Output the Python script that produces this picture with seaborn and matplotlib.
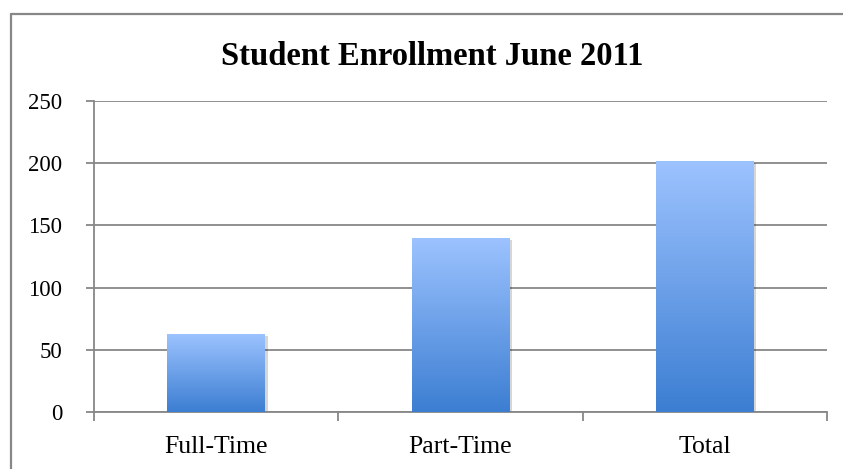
import numpy as np
import pandas as pd
import matplotlib
matplotlib.use("Agg")
import matplotlib.pyplot as plt
import matplotlib.transforms as mtransforms
from matplotlib.colors import LinearSegmentedColormap
from matplotlib.lines import Line2D
from matplotlib.patches import Rectangle
import seaborn as sns

# Data
categories = ["Full-Time", "Part-Time", "Total"]
students = [63, 140, 202]
y_ticks = [0, 50, 100, 150, 200, 250]

TOP_COLOR = "#9DC3FF"
BOTTOM_COLOR = "#3C7ED2"
GRID = "#878787"

sns.set_theme(style="white")
plt.rcParams["font.family"] = ["Liberation Serif", "DejaVu Serif"]
plt.rcParams["text.color"] = "black"

df = pd.DataFrame({"category": categories, "students": students})

fig = plt.figure(figsize=(8.43, 4.69), dpi=100)
ax = fig.add_axes([94 / 843, 57 / 469, (827 - 94) / 843, (412 - 101) / 469])

sns.barplot(data=df, x="category", y="students", ax=ax, width=0.4,
            color=TOP_COLOR, saturation=1, linewidth=0, zorder=3)

# gradient fill + soft shadow for every bar
cmap = LinearSegmentedColormap.from_list("bar", [BOTTOM_COLOR, TOP_COLOR])
grad = np.linspace(0, 1, 256).reshape(-1, 1)
for bar in list(ax.patches):
    x0, w, h = bar.get_x(), bar.get_width(), bar.get_height()
    shadow_tr = mtransforms.offset_copy(ax.transData, fig=fig, x=2.5, y=-2.5, units="dots")
    shadow = Rectangle((x0, 0), w, h, facecolor="#000000", alpha=0.16,
                       edgecolor="none", transform=shadow_tr, zorder=2)
    ax.add_patch(shadow)
    img = ax.imshow(grad, extent=[x0, x0 + w, 0, h], origin="lower",
                    cmap=cmap, aspect="auto", zorder=4)
    img.set_clip_path(bar)
    bar.set_facecolor("none")
    bar.set_edgecolor("none")

ax.set_xlim(-0.5, len(categories) - 0.5)
ax.set_ylim(0, 250)
ax.set_yticks(y_ticks)
ax.set_xlabel("")
ax.set_ylabel("")

# gridlines and axes in Excel style
ax.grid(axis="y", color=GRID, linewidth=1.3, zorder=1)
ax.grid(axis="x", visible=False)
for side in ["top", "right"]:
    ax.spines[side].set_visible(False)
for side in ["left", "bottom"]:
    ax.spines[side].set_color(GRID)
    ax.spines[side].set_linewidth(1.3)

ax.tick_params(axis="y", length=6, width=1.3, color=GRID, pad=17,
               labelsize=16.5, labelcolor="black", left=True)
ax.tick_params(axis="x", which="major", length=0, pad=17,
               labelsize=18.5, labelcolor="black")
ax.set_xticks(np.arange(-0.5, len(categories), 1.0), minor=True)
ax.tick_params(axis="x", which="minor", length=6.5, width=1.3, color=GRID,
               bottom=True)

fig.text(432 / 843, 1 - 65 / 469, "Student Enrollment June 2011",
         ha="center", va="baseline", fontsize=23.5, fontweight="bold",
         color="black")

# outer chart frame (left and top edges visible)
fig.add_artist(Line2D([10.5 / 843, 10.5 / 843], [0, 1 - 14 / 469],
                      transform=fig.transFigure, color=GRID, linewidth=1.6))
fig.add_artist(Line2D([10.5 / 843, 1], [1 - 14 / 469, 1 - 14 / 469],
                      transform=fig.transFigure, color=GRID, linewidth=1.6))

fig.savefig("out.png", dpi=100)
